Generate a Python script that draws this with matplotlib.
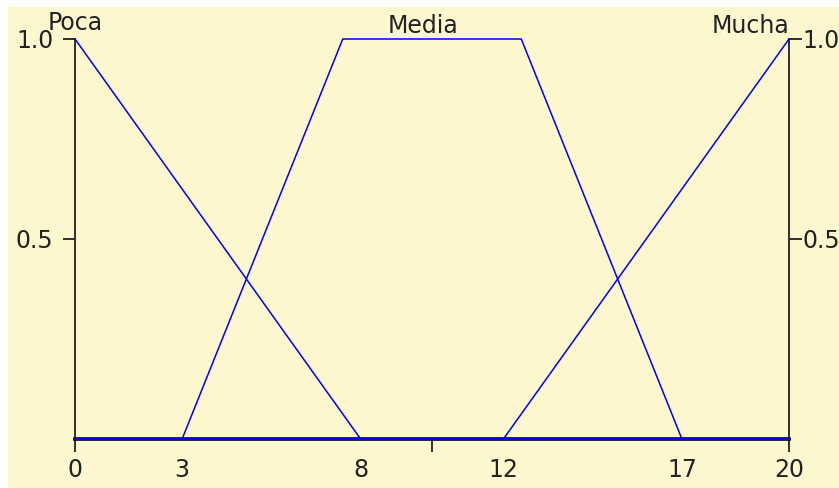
import matplotlib.pyplot as plt
from matplotlib.patches import Rectangle
from matplotlib.ticker import FixedLocator, FixedFormatter

# membership functions (x breakpoints, membership degrees)
poca_x = [0, 8, 20]
poca_y = [1, 0, 0]
media_x = [0, 3, 7.5, 12.5, 17, 20]
media_y = [0, 0, 1, 1, 0, 0]
mucha_x = [0, 12, 20]
mucha_y = [0, 0, 1]

set_names = ["Poca", "Media", "Mucha"]
name_x = [0, 9.75, 18.93]
name_y = [1.023, 1.015, 1.015]

major_ticks = [0, 10, 20]
major_labels = ["0", "", "20"]
minor_ticks = [3, 8, 12, 17]
minor_labels = ["3", "8", "12", "17"]
y_ticks = [0.5, 1.0]
y_labels = ["0.5", "1.0"]

BG = "#fdf7cf"
BLUE = "#0000ff"
FS = 17

W, H = 839, 488
fig = plt.figure(figsize=(W / 100, H / 100), dpi=100, facecolor="white")
fig.patches.append(Rectangle((8 / W, 0), 1 - 8 / W, 1 - 7 / H, transform=fig.transFigure,
                             facecolor=BG, edgecolor="none", zorder=-10))

ax = fig.add_axes([75 / W, 49 / H, 714 / W, 400 / H])
ax.set_facecolor("none")
ax.set_xlim(0, 20)
ax.set_ylim(0, 1)

ax.axhline(0, color="black", lw=2.6, zorder=2, clip_on=False)
ax.axhline(0, color=BLUE, lw=1.6, zorder=3, clip_on=False)
for xs, ys in [(poca_x, poca_y), (media_x, media_y), (mucha_x, mucha_y)]:
    ax.plot(xs, ys, color=BLUE, lw=1.1, zorder=4, clip_on=False)

for name, nx, ny in zip(set_names, name_x, name_y):
    ax.text(nx, ny, name, ha="center", va="baseline", fontsize=FS, color="#222222")

ax.spines[["top", "bottom"]].set_visible(False)
for side in ["left", "right"]:
    ax.spines[side].set_linewidth(1.3)
    ax.spines[side].set_color("#222222")

ax.xaxis.set_major_locator(FixedLocator(major_ticks))
ax.xaxis.set_major_formatter(FixedFormatter(major_labels))
ax.xaxis.set_minor_locator(FixedLocator(minor_ticks))
ax.xaxis.set_minor_formatter(FixedFormatter(minor_labels))
ax.tick_params(axis="x", which="major", length=9, width=1.3, pad=5, labelsize=FS,
               colors="#222222", direction="out")
ax.tick_params(axis="x", which="minor", length=0, pad=14, labelsize=FS, colors="#222222")

ax.set_yticks(y_ticks)
ax.set_yticklabels(y_labels)
ax.tick_params(axis="y", length=8.5, width=1.3, pad=7, labelsize=FS, colors="#222222",
               direction="out")

ax2 = ax.twinx()
ax2.set_ylim(0, 1)
ax2.set_facecolor("none")
for s in ax2.spines.values():
    s.set_visible(False)
ax2.set_yticks(y_ticks)
ax2.set_yticklabels(y_labels)
ax2.tick_params(axis="y", length=9, width=1.3, pad=1, labelsize=FS, colors="#222222",
                direction="out")

fig.savefig("out.png", dpi=100, facecolor="white")
